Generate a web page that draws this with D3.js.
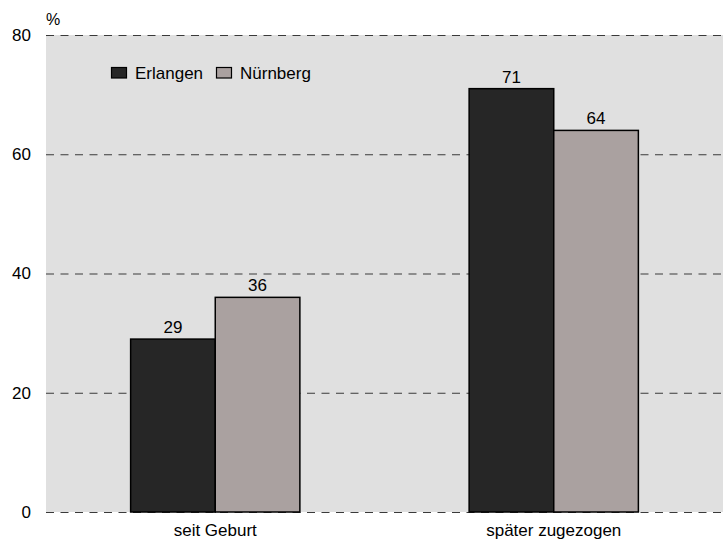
<!DOCTYPE html>
<html><head><meta charset="utf-8">
<script src="https://cdn.jsdelivr.net/npm/d3@7"></script>
<style>body{margin:0;background:#fff}svg{display:block;font-family:"Liberation Sans",Arial,sans-serif}</style>
</head><body><svg id="c" width="723" height="540"></svg>
<script>
const categories = ["seit Geburt", "später zugezogen"];
const seriesNames = ["Erlangen", "Nürnberg"];
const erlangen = [29, 71];
const nuernberg = [36, 64];
const yTicks = [0, 20, 40, 60, 80];
const colors = ["#262626", "#aaa1a0"];

(function () {
const FS = 17;
const svg = d3.select("#c");
const mLeft = 46, mRight = 723, mTop = 35, mBottom = 512;
const x = d3.scaleBand().domain(categories).range([mLeft, mRight]).paddingInner(0.5).paddingOuter(0.25);
const xs = d3.scaleBand().domain(seriesNames).range([0, x.bandwidth()]);
const y = d3.scaleLinear().domain([0, 80]).range([mBottom, mTop]);

svg.append("rect").attr("x", mLeft).attr("y", mTop).attr("width", mRight - mLeft).attr("height", mBottom - mTop).attr("fill", "#e0e0e0");

const yAxis = svg.append("g").attr("transform", `translate(${mLeft},0)`)
  .call(d3.axisLeft(y).tickValues(yTicks).tickSize(-(mRight - mLeft)).tickPadding(15));
yAxis.select(".domain").remove();
yAxis.selectAll(".tick line").attr("stroke", "#3a3a3a").attr("stroke-dasharray", "8,6.5").attr("stroke-width", 1.2);
yAxis.selectAll(".tick text").attr("font-size", FS).attr("fill", "#000").attr("font-family", "Liberation Sans, Arial, sans-serif");

svg.append("text").attr("x", mLeft).attr("y", 25).attr("font-size", FS - 1).text("%");

const data = categories.map((c, i) => ({c, vals: [erlangen[i], nuernberg[i]]}));
const g = svg.selectAll("g.grp").data(data).join("g").attr("class", "grp")
  .attr("transform", d => `translate(${x(d.c)},0)`);
g.selectAll("rect").data(d => d.vals.map((v, j) => ({v, s: seriesNames[j], j})))
  .join("rect")
  .attr("x", d => xs(d.s)).attr("width", xs.bandwidth())
  .attr("y", d => y(d.v)).attr("height", d => y(0) - y(d.v))
  .attr("fill", d => colors[d.j]).attr("stroke", "#000").attr("stroke-width", 1.5);
g.selectAll("text").data(d => d.vals.map((v, j) => ({v, s: seriesNames[j]})))
  .join("text")
  .attr("x", d => xs(d.s) + xs.bandwidth() / 2).attr("y", d => y(d.v) - 6)
  .attr("text-anchor", "middle").attr("font-size", FS).text(d => d.v);

svg.append("g").selectAll("text").data(categories).join("text")
  .attr("x", d => x(d) + x.bandwidth() / 2).attr("y", 536)
  .attr("text-anchor", "middle").attr("font-size", FS).text(d => d);

const legX = [111, 216];
const leg = svg.append("g");
seriesNames.forEach((s, i) => {
  leg.append("rect").attr("x", legX[i] + 0.5).attr("y", 67.5).attr("width", 15).attr("height", 10.5)
    .attr("fill", colors[i]).attr("stroke", "#000").attr("stroke-width", 1.2);
  leg.append("text").attr("x", legX[i] + 24).attr("y", 78.5).attr("font-size", FS).text(s);
});
})();
</script></body></html>
